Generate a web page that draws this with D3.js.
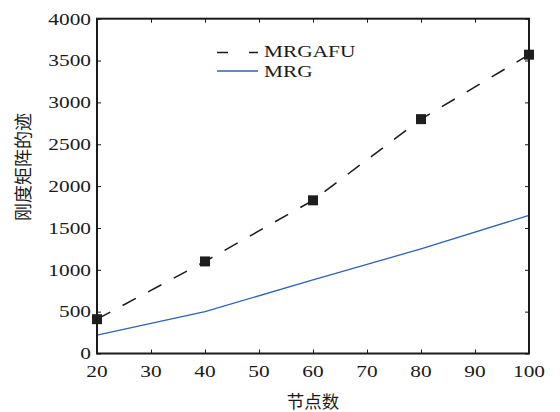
<!DOCTYPE html>
<html><head><meta charset="utf-8">
<script src="https://cdn.jsdelivr.net/npm/d3@7/dist/d3.min.js"></script>
<style>body{margin:0;background:#fff}svg{display:block}</style>
</head><body>
<svg id="c" width="560" height="412"></svg>
<script>
const nodes = [20, 40, 60, 80, 100];
const mrgafu = [410, 1100, 1830, 2800, 3570];
const mrg = [220, 500, 880, 1250, 1650];
const xTicks = [20, 30, 40, 50, 60, 70, 80, 90, 100];
const yTicks = [0, 500, 1000, 1500, 2000, 2500, 3000, 3500, 4000];
const seriesNames = ["MRGAFU", "MRG"];
const xLabel = "节点数";
const yLabel = "刚度矩阵的迹";

const svg = d3.select("#c");
const L = 97, R = 529, T = 18.7, B = 353.5;
const x = d3.scaleLinear().domain([20, 100]).range([L, R]);
const y = d3.scaleLinear().domain([0, 4000]).range([B, T]);
const serif = "'Liberation Serif','Times New Roman',serif";
const SX = 1.22;

function txt(px, py, s, anchor, size, fam) {
  return svg.append("text")
    .attr("transform", `translate(${px},${py}) scale(${SX},1)`)
    .attr("text-anchor", anchor).attr("font-family", fam || serif)
    .attr("font-size", size).attr("fill", "#1a1a1a").text(s);
}

// Lines
const lineGen = d3.line().x((d, i) => x(nodes[i])).y(d => y(d));
svg.append("path").datum(mrg).attr("d", lineGen)
  .attr("fill", "none").attr("stroke", "#2f62b5").attr("stroke-width", 1.3);
svg.append("path").datum(mrgafu).attr("d", lineGen)
  .attr("fill", "none").attr("stroke", "#1a1a1a").attr("stroke-width", 1.5)
  .attr("stroke-dasharray", "15,14");
svg.selectAll("rect.m").data(mrgafu).enter().append("rect")
  .attr("x", (d, i) => x(nodes[i]) - 5).attr("y", d => y(d) - 5)
  .attr("width", 10).attr("height", 10).attr("fill", "#1e1e1e");

// Axes box with inward ticks
const axisG = svg.append("g");
const tl = 4;
const ax = (g, axis) => { g.call(axis); g.selectAll("text").remove(); g.select(".domain").remove();
  g.selectAll("line").attr("stroke", "#1a1a1a").attr("stroke-width", 1); };
axisG.append("g").attr("transform", `translate(0,${B})`).call(g => ax(g, d3.axisBottom(x).tickValues(xTicks).tickSizeInner(-tl).tickSizeOuter(0)));
axisG.append("g").attr("transform", `translate(0,${T})`).call(g => ax(g, d3.axisTop(x).tickValues(xTicks).tickSizeInner(-tl).tickSizeOuter(0)));
axisG.append("g").attr("transform", `translate(${L},0)`).call(g => ax(g, d3.axisLeft(y).tickValues(yTicks).tickSizeInner(-tl).tickSizeOuter(0)));
axisG.append("g").attr("transform", `translate(${R},0)`).call(g => ax(g, d3.axisRight(y).tickValues(yTicks).tickSizeInner(-tl).tickSizeOuter(0)));
svg.append("rect").attr("x", L).attr("y", T).attr("width", R - L).attr("height", B - T)
  .attr("fill", "none").attr("stroke", "#1a1a1a").attr("stroke-width", 2);

// Tick labels
xTicks.forEach(v => txt(x(v), 376.5, String(v), "middle", 17.5));
yTicks.forEach(v => txt(91, y(v) + 5.8, String(v), "end", 17.5));

// Axis titles
svg.append("text").attr("x", 313).attr("y", 408).attr("text-anchor", "middle")
  .attr("font-family", "'Noto Sans CJK SC',sans-serif").attr("font-size", 17.5).attr("fill", "#1a1a1a").text(xLabel);
svg.append("text").attr("transform", "translate(30,167) rotate(-90)").attr("text-anchor", "middle")
  .attr("font-family", "'Noto Sans CJK SC',sans-serif").attr("font-size", 18).attr("fill", "#1a1a1a").text(yLabel);

// Legend
svg.append("line").attr("x1", 217).attr("x2", 258).attr("y1", 52.5).attr("y2", 52.5)
  .attr("stroke", "#1a1a1a").attr("stroke-width", 1.5).attr("stroke-dasharray", "11,21");
svg.append("line").attr("x1", 217).attr("x2", 258).attr("y1", 71).attr("y2", 71)
  .attr("stroke", "#2f62b5").attr("stroke-width", 1.3);
txt(264, 56.8, seriesNames[0], "start", 17.5);
txt(264, 76.8, seriesNames[1], "start", 17.5);
</script>
</body></html>
